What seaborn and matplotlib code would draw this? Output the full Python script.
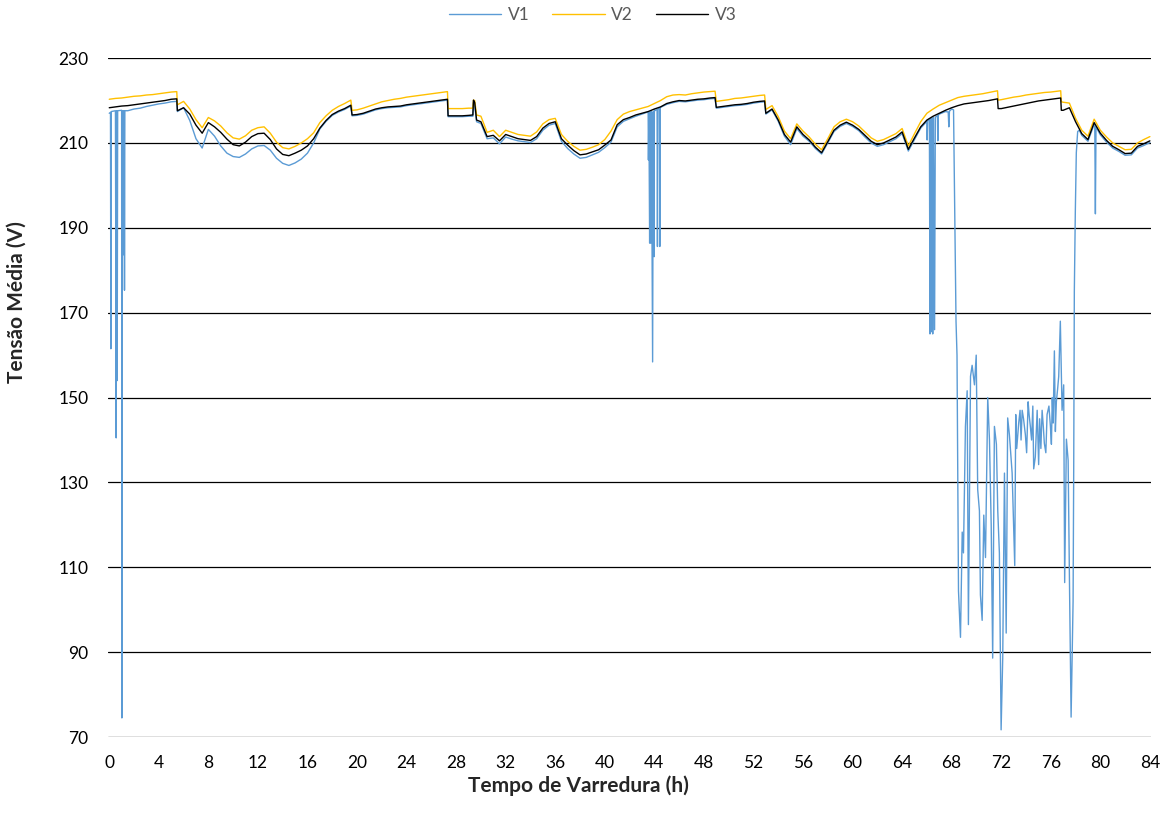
import numpy as np
import pandas as pd
import matplotlib
matplotlib.use("Agg")
import matplotlib.pyplot as plt
import seaborn as sns

# ---------------- data ----------------
hours = np.arange(0, 84.5, 0.5)          # 0 .. 84 h, half-hour samples

v3 = [
    218.3, 218.5, 218.7, 218.8, 219.0, 219.2, 219.4, 219.6,   # 0-3.5
    219.8, 220.0, 220.3, 217.6, 218.3, 216.8, 214.2, 212.3,   # 4-7.5
    214.8, 213.8, 212.5, 210.9, 209.6, 209.3, 210.2, 211.5,   # 8-11.5
    212.2, 212.3, 210.8, 208.6, 207.3, 207.0, 207.6, 208.3,   # 12-15.5
    209.3, 211.0, 213.5, 215.3, 216.7, 217.5, 218.1, 218.9,   # 16-19.5
    216.7, 217.0, 217.5, 218.0, 218.3, 218.5, 218.6, 218.7,   # 20-23.5
    219.0, 219.2, 219.4, 219.6, 219.8, 220.0, 220.2, 216.4,   # 24-27.5
    216.4, 216.4, 216.5, 219.5, 215.0, 211.5, 211.8, 210.5,   # 28-31.5
    212.0, 211.5, 211.0, 210.8, 210.6, 211.5, 213.5, 214.6,   # 32-35.5
    215.0, 211.0, 209.5, 208.2, 207.2, 207.4, 207.9, 208.4,   # 36-39.5
    209.5, 210.7, 214.3, 215.5, 216.0, 216.6, 217.0, 217.4,   # 40-43.5
    218.0, 218.5, 219.3, 219.7, 220.0, 219.9, 220.1, 220.3,   # 44-47.5
    220.4, 220.6, 218.4, 218.6, 218.8, 219.0, 219.1, 219.3,   # 48-51.5
    219.6, 219.8, 217.0, 218.0, 215.4, 212.0, 210.2, 213.8,   # 52-55.5
    212.0, 210.7, 209.0, 207.7, 210.3, 213.0, 214.2, 214.9,   # 56-59.5
    214.2, 213.2, 211.8, 210.4, 209.6, 210.0, 210.7, 211.4,   # 60-63.5
    212.6, 208.5, 211.2, 213.8, 215.4, 216.3, 217.0, 217.7,   # 64-67.5
    218.3, 218.8, 219.2, 219.4, 219.6, 219.8, 220.0, 220.3,   # 68-71.5
    218.1, 218.4, 218.7, 219.0, 219.3, 219.6, 219.9, 220.1,   # 72-75.5
    220.3, 220.5, 217.7, 218.3, 215.0, 212.2, 210.8, 214.8,   # 76-79.5
    212.3, 210.6, 209.2, 208.4, 207.5, 207.6, 209.2, 209.8,   # 80-83.5
    210.5,                                                    # 84
]
# extra samples at the abrupt steps of V3
v3_step_hours = [5.45, 19.6, 27.3, 27.35, 29.35, 29.4, 29.65, 48.9, 52.9, 71.7, 71.75, 76.8, 76.85]
v3_step_volts = [220.4, 216.6, 220.3, 216.4, 216.6, 220.1, 215.4, 220.7, 219.9, 220.4, 218.1, 220.6, 217.7]

v2 = [
    220.3, 220.5, 220.6, 220.8, 221.0, 221.1, 221.3, 221.4,
    221.6, 221.8, 222.0, 219.0, 219.8, 218.0, 215.5, 213.6,
    216.0, 215.2, 214.0, 212.4, 211.2, 210.9, 211.7, 213.0,
    213.6, 213.8, 212.3, 210.2, 208.9, 208.6, 209.2, 210.0,
    211.0, 212.4, 214.8, 216.4, 217.7, 218.6, 219.3, 220.1,
    217.8, 218.2, 218.7, 219.2, 219.7, 220.0, 220.3, 220.5,
    220.8, 221.0, 221.2, 221.4, 221.6, 221.8, 222.0, 218.1,
    218.1, 218.1, 218.2, 220.0, 216.3, 212.5, 213.0, 211.5,
    213.0, 212.5, 212.0, 211.8, 211.6, 212.6, 214.5, 215.5,
    215.8, 212.0, 210.4, 209.2, 208.3, 208.5, 209.0, 209.6,
    210.8, 212.8, 215.5, 216.8, 217.4, 217.8, 218.2, 218.6,
    219.3, 220.0, 220.9, 221.3, 221.4, 221.3, 221.6, 221.8,
    222.0, 222.1, 219.8, 220.0, 220.2, 220.5, 220.6, 220.8,
    221.0, 221.2, 217.9, 218.8, 216.2, 212.8, 211.0, 214.5,
    212.8, 211.4, 209.7, 208.4, 211.0, 213.8, 215.0, 215.6,
    215.0, 214.0, 212.6, 211.2, 210.4, 210.8, 211.5, 212.2,
    213.4, 209.3, 212.2, 215.0, 217.0, 218.0, 218.9, 219.5,
    220.1, 220.7, 221.0, 221.2, 221.4, 221.6, 221.9, 222.2,
    220.2, 220.5, 220.8, 221.0, 221.3, 221.5, 221.7, 221.9,
    222.0, 222.2, 219.6, 219.4, 215.8, 213.0, 211.6, 215.6,
    213.0, 211.4, 210.0, 209.2, 208.4, 208.5, 210.0, 210.8,
    211.5,
]
v2_step_hours = [5.45, 19.6, 27.3, 27.35, 29.35, 29.4, 29.65, 48.9, 52.9, 71.7, 71.75, 76.8, 76.85]
v2_step_volts = [222.1, 217.7, 222.1, 218.1, 218.2, 220.1, 216.6, 222.2, 221.3, 222.3, 220.1, 222.3, 219.7]

nan = np.nan
v1_base = [
    217.0, 217.6, 217.7, 217.6, 218.0, 218.2, 218.6, 218.9,
    219.2, 219.4, 219.7, 217.4, 218.3, 215.3, 211.0, 208.8,
    213.2, 211.6, 209.3, 207.6, 206.8, 206.6, 207.4, 208.6,
    209.3, 209.4, 208.3, 206.4, 205.2, 204.7, 205.3, 206.2,
    207.6, 210.0, 213.3, 215.1, 216.5, 217.3, 217.9, 218.7,
    216.5, 216.8, 217.3, 217.8, 218.1, 218.3, 218.4, 218.5,
    218.8, 219.0, 219.2, 219.4, 219.6, 219.8, 220.0, 216.2,
    216.2, 216.2, 216.3, 218.8, 214.6, 211.0, 211.2, 209.8,
    211.4, 210.9, 210.5, 210.3, 210.1, 211.0, 213.0, 214.2,
    214.6, 210.4, 208.7, 207.4, 206.4, 206.6, 207.2, 207.8,
    208.9, 210.2, 213.8, 215.1, 215.7, 216.3, 216.8, 217.2,
    217.8, 218.4, 219.1, 219.5, 219.8, 219.7, 219.9, 220.1,
    220.2, 220.4, 218.2, 218.4, 218.6, 218.8, 218.9, 219.1,
    219.4, 219.6, 216.8, 217.8, 215.1, 211.6, 209.6, 213.4,
    211.6, 210.4, 208.7, 207.4, 210.0, 212.7, 213.9, 214.6,
    213.9, 212.9, 211.4, 210.0, 209.2, 209.6, 210.3, 211.0,
    212.2, 208.1, 210.8, 213.5, 215.1, 216.0, 216.8, 217.4,
    218.0, nan, nan, nan, nan, nan, nan, nan,
    nan, nan, nan, nan, nan, nan, nan, nan,
    nan, nan, nan, nan, nan, 211.8, 210.4, 214.4,
    211.9, 210.2, 208.8, 208.0, 207.1, 207.2, 208.8, 209.4,
    210.1,
]
v1_step_hours = [5.45, 19.6, 27.3, 27.35, 29.35, 29.4, 29.65, 48.9, 52.9]
v1_step_volts = [219.8, 216.4, 220.1, 216.2, 216.3, 219.5, 215.0, 220.5, 219.7]

# short voltage dips of phase V1
v1_dip_hours = [
    0.10, 0.13, 0.16, 0.56, 0.60, 0.64, 0.68, 0.98, 1.02, 1.06, 1.16, 1.19, 1.21, 1.23, 1.26,
    43.47, 43.52, 43.56, 43.62, 43.66, 43.71, 43.76, 43.86, 43.91, 43.96, 43.98, 44.03,
    44.22, 44.25, 44.28, 44.41, 44.44, 44.47,
    66.02, 66.06, 66.20, 66.25, 66.30, 66.35, 66.40, 66.47, 66.53, 66.62, 66.68,
    66.85, 66.88, 66.92, 67.72, 67.77, 67.82,
    79.55, 79.60, 79.65,
]
v1_dip_volts = [
    217.2, 161.5, 217.4, 140.5, 217.6, 154.0, 217.6, 217.7, 74.5, 217.6, 217.6, 183.6, 217.5, 175.3, 217.6,
    217.3, 206.0, 217.3, 186.4, 217.3, 186.4, 217.4, 158.4, 217.4, 193.0, 183.2, 217.6,
    217.9, 185.6, 218.0, 218.2, 185.6, 218.3,
    210.7, 215.2, 215.6, 165.0, 215.7, 165.5, 215.8, 165.0, 216.0, 166.0, 216.1,
    216.4, 210.5, 216.5, 217.3, 213.8, 217.5,
    214.2, 193.3, 213.8,
]

# long under-voltage episode of V1 (68 h - 78 h)
v1_sag_hours = [
    68.15, 68.35, 68.43, 68.55, 68.71, 68.85, 68.95, 69.11, 69.25, 69.35,
    69.52, 69.65, 69.84, 69.98, 70.10, 70.24, 70.32, 70.46, 70.59, 70.73,
    70.91, 71.05, 71.19, 71.31, 71.45, 71.61, 71.72, 71.85, 71.99, 72.12,
    72.26, 72.40, 72.52, 72.66, 72.88, 73.09, 73.17, 73.25, 73.41, 73.52,
    73.60, 73.69, 73.80, 73.95, 74.05, 74.17, 74.25, 74.35, 74.45, 74.55,
    74.62, 74.75, 74.90, 75.02, 75.10, 75.20, 75.30, 75.40, 75.48, 75.60,
    75.70, 75.85, 75.97, 76.05, 76.12, 76.19, 76.29, 76.37, 76.45, 76.55,
    76.64, 76.77, 76.91, 77.04, 77.12, 77.26, 77.40, 77.52, 77.64, 77.72,
    77.80, 77.85, 77.90, 77.98, 78.06, 78.17, 78.30,
]
v1_sag_volts = [
    217.8, 168.0, 160.0, 104.4, 93.5, 118.3, 113.4, 143.2, 151.6, 96.5,
    155.0, 157.6, 153.0, 160.0, 128.3, 123.3, 103.5, 97.5, 122.3, 112.3,
    150.0, 140.0, 120.0, 88.6, 143.2, 139.0, 123.3, 113.4, 71.7, 88.6,
    132.2, 94.5, 145.2, 141.2, 132.2, 110.4, 146.0, 138.0, 144.0, 147.0,
    140.0, 147.0, 145.0, 141.2, 137.0, 149.0, 146.0, 143.2, 140.0, 148.0,
    133.2, 136.0, 147.0, 134.2, 145.0, 138.0, 147.0, 143.0, 139.2, 137.0,
    146.0, 148.0, 143.2, 139.0, 150.0, 144.0, 161.0, 142.0, 149.0, 152.0,
    155.0, 168.0, 147.0, 153.0, 106.4, 140.2, 135.2, 103.5, 74.7, 88.6,
    102.0, 133.2, 175.0, 193.8, 207.7, 212.7, 213.0,
]

x_ticks = list(range(0, 85, 4))
y_ticks = list(range(70, 231, 20))
series_names = ["V1", "V2", "V3"]
colors = {"V1": "#5B9BD5", "V2": "#FFC000", "V3": "#000000"}

# ---------------- build long-form table ----------------
def frame(parts, name):
    d = pd.concat([pd.DataFrame({"hour": h, "volt": v}) for h, v in parts]).dropna()
    d["serie"] = name
    return d

df = pd.concat([
    frame([(hours, v1_base), (v1_step_hours, v1_step_volts),
           (v1_dip_hours, v1_dip_volts), (v1_sag_hours, v1_sag_volts)], "V1"),
    frame([(hours, v2), (v2_step_hours, v2_step_volts)], "V2"),
    frame([(hours, v3), (v3_step_hours, v3_step_volts)], "V3"),
], ignore_index=True)

# ---------------- plot ----------------
sns.set_theme(style="white")
plt.rcParams["font.family"] = ["Lato", "DejaVu Sans"]

fig = plt.figure(figsize=(11.74, 8.3), dpi=100)
ax = fig.add_axes([0.092, 0.112, 0.888, 0.818])

sns.lineplot(data=df, x="hour", y="volt", hue="serie", hue_order=series_names,
             palette=colors, estimator=None, sort=True, linewidth=1.0, ax=ax)

ax.set_xlim(-0.1, 84.05)
ax.set_ylim(70, 230)
ax.set_xticks(x_ticks)
ax.set_yticks(y_ticks)
ax.yaxis.grid(True, color="black", linewidth=0.9)
ax.xaxis.grid(False)
ax.set_axisbelow(True)
for s in ax.spines.values():
    s.set_visible(False)
ax.tick_params(axis="both", length=0, labelsize=12.5, colors="black")
ax.tick_params(axis="y", pad=14)
ax.tick_params(axis="x", pad=13)

ax.set_xlabel("Tempo de Varredura (h)", fontsize=15, fontweight="bold")
ax.set_ylabel("Tensão Média (V)", fontsize=15, fontweight="bold")
ax.xaxis.set_label_coords(0.451, -0.057)
ax.yaxis.set_label_coords(-0.078, 0.64)

handles, labels = ax.get_legend_handles_labels()
ax.legend(handles, labels, loc="center", bbox_to_anchor=(0.505, 0.982),
          bbox_transform=fig.transFigure, ncol=3, frameon=False, fontsize=12.5,
          handlelength=3.0, handletextpad=0.4, columnspacing=1.3,
          labelcolor="#595959")

fig.savefig("out.png", dpi=100)
